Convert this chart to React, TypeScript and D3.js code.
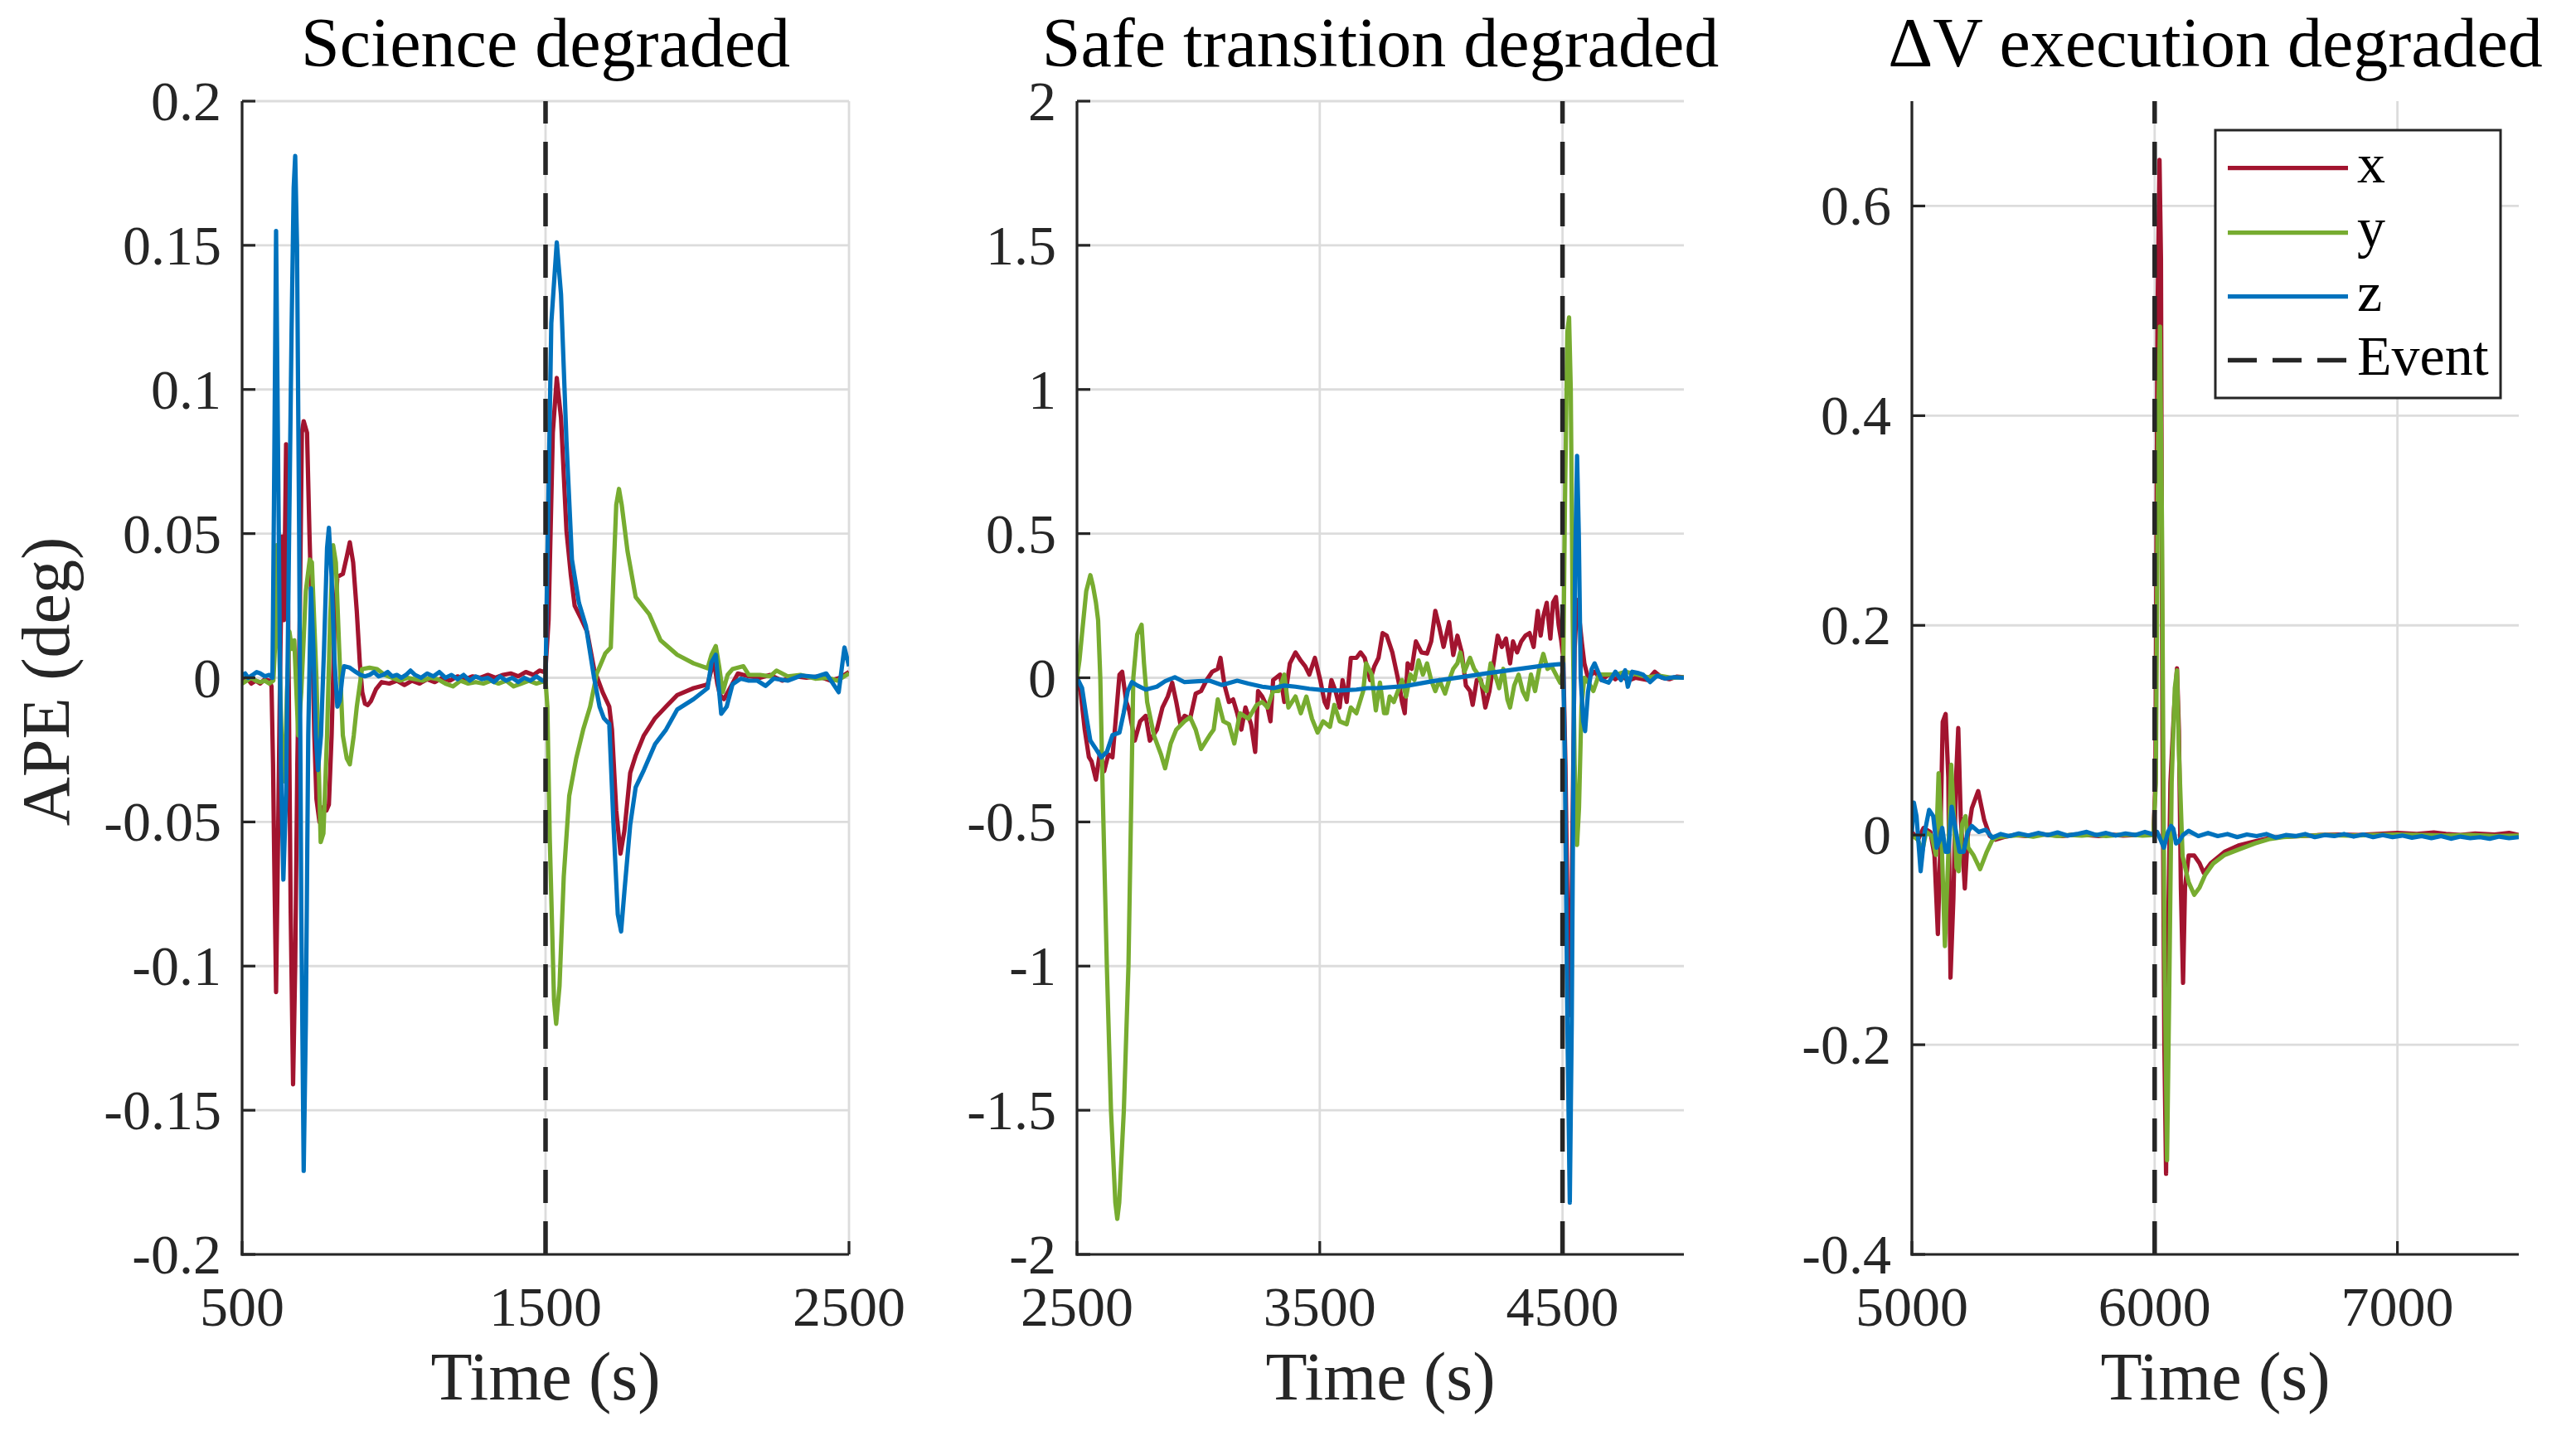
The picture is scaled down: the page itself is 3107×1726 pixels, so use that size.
import * as React from 'react';
import * as d3 from 'd3';

type Pt = [number, number];

// time (s), APE (deg)
const scienceX: Pt[] = [[500,-0.001],[515,0.0],[530,-0.002],[545,-0.001],[560,-0.002],[575,-0.0005],[590,-0.001],[597,-0.003],[602,-0.03],[606,-0.064],[612,-0.109],[618,-0.06],[625,0.0],[632,0.049],[638,0.02],[645,0.081],[652,0.02],[660,-0.08],[668,-0.141],[675,-0.1],[682,-0.03],[690,0.02],[697,0.085],[703,0.089],[714,0.085],[722,0.05],[730,0.02],[738,-0.02],[745,-0.042],[755,-0.05],[765,-0.045],[778,-0.046],[786,-0.044],[795,-0.02],[805,0.02],[814,0.035],[832,0.036],[845,0.042],[855,0.047],[866,0.04],[878,0.023],[888,0.005],[896,-0.005],[905,-0.009],[914,-0.0095],[925,-0.008],[941,-0.004],[960,-0.0015],[985,-0.002],[1010,-0.001],[1035,-0.0025],[1060,-0.001],[1085,-0.002],[1110,-0.0005],[1135,-0.0015],[1160,0.0],[1185,-0.001],[1210,0.0005],[1235,-0.0005],[1260,0.0005],[1285,0.0],[1310,0.001],[1335,0.0],[1360,0.001],[1385,0.0015],[1410,0.0005],[1435,0.002],[1460,0.001],[1480,0.0025],[1495,0.002],[1500,0.003],[1510,0.02],[1524,0.085],[1537,0.104],[1551,0.09],[1569,0.051],[1583,0.036],[1596,0.025],[1615,0.021],[1637,0.016],[1660,0.003],[1688,-0.005],[1710,-0.01],[1719,-0.018],[1733,-0.046],[1747,-0.061],[1760,-0.053],[1779,-0.033],[1797,-0.027],[1824,-0.02],[1861,-0.014],[1897,-0.01],[1934,-0.006],[1988,-0.0036],[2034,-0.0023],[2047,0.003],[2056,0.005],[2066,-0.002],[2075,-0.006],[2088,-0.0074],[2116,-0.002],[2134,0.0015],[2170,0.0005],[2207,0.0],[2240,0.001],[2280,-0.001],[2320,0.0005],[2360,0.0],[2400,0.0005],[2440,-0.001],[2470,0.0],[2500,0.002]];
const scienceY: Pt[] = [[500,-0.002],[515,-0.001],[530,0.0],[545,-0.001],[560,-0.0015],[575,-0.001],[590,-0.002],[603,-0.001],[609,0.012],[614,0.046],[620,0.02],[630,-0.02],[640,-0.036],[648,-0.005],[656,0.016],[664,0.01],[672,0.013],[685,-0.02],[695,-0.005],[710,0.03],[723,0.041],[730,0.04],[745,0.0],[759,-0.057],[768,-0.054],[780,-0.02],[790,0.02],[800,0.046],[809,0.04],[820,0.01],[832,-0.02],[845,-0.028],[855,-0.03],[868,-0.02],[878,-0.01],[895,0.003],[920,0.0035],[945,0.003],[970,0.001],[995,0.0],[1020,-0.001],[1045,0.0],[1070,-0.0005],[1095,-0.001],[1120,0.0],[1145,-0.0005],[1170,-0.002],[1195,-0.003],[1220,-0.001],[1245,-0.002],[1270,-0.0015],[1295,-0.002],[1320,-0.001],[1345,-0.002],[1370,-0.001],[1395,-0.003],[1420,-0.002],[1445,-0.001],[1470,-0.002],[1500,-0.001],[1506,-0.01],[1514,-0.056],[1528,-0.112],[1535,-0.12],[1546,-0.107],[1560,-0.069],[1578,-0.041],[1601,-0.028],[1624,-0.018],[1647,-0.01],[1669,0.0015],[1697,0.0085],[1715,0.0105],[1724,0.036],[1733,0.06],[1742,0.0655],[1751,0.06],[1770,0.044],[1797,0.028],[1842,0.022],[1879,0.013],[1934,0.008],[1988,0.005],[2034,0.0033],[2047,0.008],[2061,0.011],[2072,0.004],[2084,-0.005],[2100,0.001],[2116,0.003],[2152,0.004],[2170,0.001],[2207,0.001],[2240,0.0005],[2261,0.0025],[2298,0.0005],[2340,0.001],[2389,-0.0003],[2430,0.0],[2462,-0.001],[2500,0.0015]];
const scienceZ: Pt[] = [[500,0.001],[510,0.0015],[520,0.0],[535,0.001],[548,0.002],[560,0.0015],[575,0.0005],[590,0.001],[600,0.0],[605,0.06],[612,0.155],[620,0.06],[628,-0.03],[636,-0.07],[645,-0.04],[655,0.05],[663,0.12],[670,0.17],[675,0.181],[681,0.15],[688,0.05],[695,-0.08],[703,-0.171],[710,-0.12],[718,-0.02],[727,0.031],[735,0.01],[743,-0.02],[750,-0.032],[760,-0.02],[770,0.01],[780,0.045],[786,0.052],[795,0.035],[805,0.005],[814,-0.01],[822,-0.008],[830,0.0],[836,0.004],[855,0.0035],[875,0.002],[890,0.001],[905,0.0005],[920,0.001],[935,0.002],[950,0.0005],[965,0.001],[980,0.002],[995,0.0005],[1010,0.001],[1025,0.0],[1040,0.001],[1055,0.0025],[1070,0.001],[1090,0.0],[1110,0.0015],[1130,0.0005],[1150,0.002],[1170,0.0],[1190,0.001],[1210,-0.0005],[1230,0.001],[1250,-0.001],[1270,0.0005],[1290,-0.0005],[1310,0.0],[1330,-0.0015],[1350,0.0005],[1370,-0.001],[1390,0.0],[1410,-0.0015],[1430,0.0],[1450,-0.001],[1470,0.0005],[1490,-0.001],[1500,-0.001],[1505,0.034],[1519,0.123],[1537,0.151],[1551,0.133],[1569,0.082],[1587,0.041],[1610,0.026],[1633,0.018],[1660,0.0],[1678,-0.01],[1692,-0.014],[1710,-0.016],[1724,-0.051],[1738,-0.082],[1749,-0.088],[1760,-0.074],[1779,-0.051],[1797,-0.038],[1824,-0.032],[1861,-0.023],[1897,-0.018],[1934,-0.011],[1988,-0.0074],[2034,-0.0036],[2047,0.0054],[2061,0.008],[2079,-0.0125],[2097,-0.01],[2116,-0.0023],[2143,-0.0003],[2170,-0.001],[2198,-0.001],[2225,-0.0028],[2252,-0.0003],[2298,-0.001],[2343,0.0008],[2389,0.0003],[2425,0.0015],[2466,-0.005],[2485,0.0105],[2500,0.004]];

const safeX: Pt[] = [[2500,0.0],[2515,-0.05],[2532,-0.18],[2549,-0.275],[2560,-0.29],[2578,-0.353],[2595,-0.257],[2612,-0.324],[2629,-0.266],[2646,-0.276],[2658,-0.16],[2675,0.011],[2686,0.021],[2703,-0.084],[2715,-0.113],[2738,-0.218],[2760,-0.151],[2783,-0.132],[2800,-0.218],[2829,-0.18],[2852,-0.103],[2874,-0.065],[2892,-0.017],[2909,-0.084],[2926,-0.161],[2943,-0.132],[2966,-0.142],[2989,-0.055],[3011,-0.046],[3034,-0.008],[3057,0.021],[3080,0.031],[3091,0.069],[3108,-0.027],[3126,-0.084],[3143,-0.075],[3160,-0.123],[3177,-0.18],[3194,-0.103],[3217,-0.161],[3234,-0.257],[3246,-0.046],[3263,-0.065],[3285,-0.103],[3297,-0.151],[3308,-0.008],[3337,0.011],[3354,-0.084],[3377,0.05],[3400,0.088],[3422,0.059],[3440,0.04],[3457,0.011],[3480,0.069],[3502,-0.008],[3520,-0.084],[3531,-0.103],[3548,-0.008],[3565,-0.046],[3582,-0.103],[3594,-0.008],[3611,-0.084],[3628,0.069],[3651,0.069],[3668,0.088],[3685,0.069],[3708,-0.008],[3725,0.04],[3742,0.069],[3759,0.155],[3776,0.146],[3799,0.088],[3816,0.021],[3828,-0.027],[3839,-0.084],[3850,-0.123],[3862,0.05],[3879,0.031],[3896,0.126],[3919,0.088],[3942,0.084],[3959,0.126],[3976,0.232],[3993,0.174],[4010,0.107],[4033,0.193],[4050,0.079],[4067,0.146],[4085,0.088],[4102,-0.027],[4119,-0.046],[4130,-0.094],[4147,-0.008],[4164,-0.008],[4182,-0.103],[4199,-0.046],[4216,0.05],[4233,0.146],[4250,0.107],[4267,0.136],[4284,0.05],[4296,0.126],[4313,0.088],[4330,0.126],[4347,0.146],[4364,0.155],[4381,0.107],[4398,0.232],[4410,0.146],[4421,0.213],[4435,0.26],[4450,0.136],[4461,0.261],[4473,0.28],[4484,0.184],[4495,0.127],[4503,0.07],[4512,-0.3],[4522,-0.9],[4532,-1.17],[4540,-0.6],[4550,0.1],[4560,0.27],[4570,0.2],[4580,0.12],[4590,0.05],[4605,0.0],[4632,0.021],[4661,-0.008],[4690,0.011],[4718,-0.005],[4741,0.009],[4770,-0.01],[4800,0.0],[4850,-0.008],[4880,0.021],[4910,0.0],[4940,-0.005],[4970,0.004],[5000,0.002]];
const safeY: Pt[] = [[2500,0.0],[2510,0.06],[2521,0.155],[2538,0.3],[2555,0.356],[2566,0.318],[2578,0.261],[2587,0.2],[2596,0.0],[2606,-0.4],[2623,-1.0],[2640,-1.5],[2658,-1.82],[2666,-1.877],[2674,-1.82],[2693,-1.5],[2712,-1.0],[2722,-0.5],[2732,0.0],[2748,0.15],[2766,0.184],[2776,0.05],[2789,-0.084],[2817,-0.2],[2846,-0.266],[2863,-0.314],[2886,-0.228],[2909,-0.18],[2943,-0.151],[2966,-0.137],[2989,-0.18],[3011,-0.247],[3046,-0.2],[3063,-0.18],[3080,-0.075],[3103,-0.151],[3126,-0.161],[3148,-0.228],[3171,-0.123],[3206,-0.142],[3240,-0.094],[3263,-0.084],[3285,-0.103],[3308,-0.046],[3331,-0.046],[3354,0.011],[3371,-0.103],[3400,-0.065],[3422,-0.123],[3445,-0.065],[3468,-0.142],[3491,-0.19],[3514,-0.151],[3542,-0.17],[3560,-0.094],[3582,-0.151],[3611,-0.161],[3628,-0.103],[3651,-0.123],[3679,-0.046],[3691,0.05],[3714,0.011],[3731,-0.113],[3748,-0.017],[3765,-0.123],[3776,-0.123],[3788,-0.065],[3805,-0.084],[3822,-0.046],[3839,-0.008],[3856,-0.065],[3873,0.011],[3890,-0.008],[3907,0.06],[3925,0.011],[3942,0.05],[3959,-0.008],[3976,-0.046],[3993,-0.008],[4016,-0.055],[4033,-0.008],[4050,0.031],[4067,0.05],[4079,0.088],[4096,0.021],[4119,0.069],[4136,0.031],[4153,0.011],[4170,-0.027],[4187,-0.046],[4204,0.05],[4222,0.011],[4239,-0.036],[4256,0.031],[4273,-0.075],[4284,-0.103],[4301,-0.027],[4319,0.011],[4336,-0.046],[4353,-0.075],[4370,0.011],[4387,-0.046],[4404,0.031],[4421,0.083],[4438,0.031],[4455,0.04],[4473,0.011],[4490,-0.017],[4503,0.03],[4510,0.6],[4520,1.2],[4527,1.25],[4534,1.0],[4542,0.2],[4550,-0.3],[4560,-0.58],[4568,-0.45],[4578,-0.1],[4590,0.0],[4610,-0.02],[4627,-0.046],[4650,0.011],[4690,0.011],[4718,0.011],[4760,0.021],[4809,0.011],[4850,0.002],[4900,0.007],[4950,0.0],[5000,0.002]];
const safeZ: Pt[] = [[2500,0.0],[2521,-0.036],[2538,-0.132],[2555,-0.218],[2578,-0.247],[2600,-0.276],[2623,-0.257],[2646,-0.199],[2675,-0.19],[2692,-0.123],[2709,-0.046],[2726,-0.015],[2749,-0.027],[2783,-0.041],[2829,-0.031],[2863,-0.012],[2903,0.002],[2943,-0.015],[3000,-0.012],[3046,-0.01],[3097,-0.025],[3160,-0.01],[3206,-0.02],[3263,-0.031],[3308,-0.036],[3354,-0.027],[3400,-0.031],[3457,-0.038],[3514,-0.043],[3582,-0.044],[3651,-0.041],[3696,-0.036],[3736,-0.036],[3850,-0.029],[3965,-0.012],[4079,0.002],[4193,0.016],[4307,0.029],[4421,0.042],[4495,0.048],[4503,0.05],[4510,-0.3],[4520,-1.2],[4530,-1.82],[4538,-1.2],[4545,-0.3],[4552,0.4],[4560,0.77],[4567,0.5],[4575,0.0],[4585,-0.15],[4593,-0.185],[4605,-0.05],[4620,0.03],[4632,0.05],[4661,-0.008],[4690,-0.017],[4718,0.021],[4741,-0.008],[4758,0.026],[4769,-0.031],[4787,0.021],[4809,0.017],[4832,0.011],[4861,-0.015],[4889,0.007],[4924,-0.003],[4958,0.002],[5000,0.0]];

const dvX: Pt[] = [[5000,0.003],[5025,-0.0045],[5048,0.0067],[5076,0.003],[5093,-0.019],[5107,-0.0945],[5116,-0.019],[5127,0.108],[5139,0.1155],[5150,0.055],[5159,-0.136],[5171,-0.06],[5182,0.055],[5191,0.102],[5201,0.018],[5218,-0.051],[5230,-0.001],[5247,0.0255],[5273,0.042],[5298,0.0142],[5321,-0.001],[5344,-0.0045],[5378,-0.002],[5420,0.0],[5470,-0.001],[5520,0.001],[5570,0.0],[5620,-0.001],[5670,0.0005],[5720,0.0],[5770,-0.001],[5820,0.0005],[5870,-0.0005],[5920,0.0],[5970,0.001],[5995,0.0],[6003,0.05],[6012,0.5],[6020,0.644],[6026,0.55],[6032,0.1],[6040,-0.2],[6047,-0.323],[6055,-0.1],[6065,0.05],[6080,0.12],[6092,0.159],[6100,0.1],[6108,-0.05],[6117,-0.141],[6125,-0.05],[6140,-0.0195],[6163,-0.0195],[6185,-0.027],[6202,-0.036],[6231,-0.027],[6288,-0.016],[6345,-0.01],[6413,-0.006],[6470,-0.003],[6530,-0.0015],[6600,-0.001],[6680,0.0],[6760,0.0005],[6840,0.0],[6920,0.001],[7000,0.002],[7080,0.001],[7150,0.0025],[7200,0.001],[7260,0.0],[7320,0.0015],[7400,0.0005],[7460,0.002],[7500,0.0]];
const dvY: Pt[] = [[5000,0.0],[5025,-0.0045],[5042,-0.016],[5059,0.003],[5082,-0.001],[5099,-0.019],[5110,0.059],[5122,-0.001],[5136,-0.106],[5150,-0.019],[5162,0.067],[5173,0.018],[5184,-0.031],[5193,-0.0345],[5207,0.0105],[5221,0.018],[5232,-0.012],[5253,-0.019],[5281,-0.0326],[5309,-0.0157],[5332,-0.0045],[5355,-0.002],[5400,-0.001],[5450,0.0],[5500,-0.0015],[5550,0.0005],[5600,-0.001],[5650,0.0],[5700,-0.0005],[5750,0.0005],[5800,-0.001],[5850,0.0],[5900,0.0005],[5950,-0.0005],[5995,0.0],[6005,0.05],[6015,0.4],[6022,0.485],[6030,0.3],[6040,-0.1],[6051,-0.31],[6060,-0.15],[6070,0.05],[6083,0.14],[6092,0.157],[6100,0.08],[6115,-0.02],[6140,-0.045],[6163,-0.057],[6185,-0.05],[6208,-0.038],[6242,-0.027],[6288,-0.019],[6345,-0.0139],[6413,-0.008],[6470,-0.004],[6530,-0.002],[6600,-0.001],[6700,0.0],[6800,-0.0005],[6900,0.0],[7000,0.0005],[7100,0.0],[7200,-0.0005],[7300,0.0],[7400,-0.001],[7500,-0.0005]];
const dvZ: Pt[] = [[5000,0.003],[5008,0.031],[5019,0.018],[5036,-0.0345],[5053,0.003],[5071,0.024],[5088,0.018],[5102,-0.012],[5114,-0.005],[5125,0.0068],[5139,-0.016],[5150,-0.016],[5164,0.027],[5179,0.0068],[5196,-0.016],[5213,-0.016],[5230,0.003],[5247,0.0086],[5275,0.003],[5304,0.005],[5332,-0.0026],[5366,0.001],[5400,-0.001],[5440,0.0015],[5480,-0.0005],[5520,0.002],[5560,0.0],[5600,0.0025],[5640,-0.0005],[5680,0.001],[5720,0.003],[5760,0.0],[5800,0.002],[5840,-0.0005],[5880,0.0015],[5920,0.0],[5960,0.003],[5990,0.001],[6010,0.003],[6025,-0.005],[6038,-0.012],[6055,0.003],[6068,0.0086],[6077,0.006],[6088,-0.008],[6100,-0.006],[6117,0.0],[6140,0.004],[6180,-0.001],[6220,0.002],[6260,-0.001],[6300,0.001],[6340,-0.002],[6380,0.0005],[6420,-0.001],[6460,0.001],[6500,-0.0025],[6540,0.0],[6580,-0.001],[6620,0.001],[6660,-0.002],[6700,0.0],[6740,-0.001],[6780,0.001],[6820,-0.0015],[6860,0.0005],[6900,-0.002],[6940,0.0],[6980,-0.002],[7020,-0.0005],[7060,-0.0025],[7100,-0.001],[7140,-0.003],[7180,-0.001],[7220,-0.0035],[7260,-0.0015],[7300,-0.003],[7340,-0.002],[7380,-0.0035],[7420,-0.0015],[7460,-0.003],[7500,-0.002]];

const titles = ['Science degraded', 'Safe transition degraded', '\u0394V execution degraded'];
const events = [1500, 4500, 6000];
const xDomains: Pt[] = [[500, 2500], [2500, 5000], [5000, 7500]];
const yDomains: Pt[] = [[-0.2, 0.2], [-2, 2], [-0.4, 0.7]];
const xTickValues = [[500, 1500, 2500], [2500, 3500, 4500], [5000, 6000, 7000]];
const yTickValues = [
  [-0.2, -0.15, -0.1, -0.05, 0, 0.05, 0.1, 0.15, 0.2],
  [-2, -1.5, -1, -0.5, 0, 0.5, 1, 1.5, 2],
  [-0.4, -0.2, 0, 0.2, 0.4, 0.6],
];
const seriesNames = ['x', 'y', 'z'];
const seriesColors = ['#A2142F', '#77AC30', '#0072BD'];
const data = [[scienceX, scienceY, scienceZ], [safeX, safeY, safeZ], [dvX, dvY, dvZ]];

const W = 3107;
const H = 1726;
const TOP = 122;
const BOTTOM = 1513;
const LEFTS = [292, 1299, 2306];
const PW = 732;
const AX = '#262626';
const GRID = '#dcdcdc';
const FONT = '"Liberation Serif", "Times New Roman", serif';

const Panel: React.FC<{ i: number }> = ({ i }) => {
  const left = LEFTS[i];
  const x = d3.scaleLinear().domain(xDomains[i]).range([left, left + PW]);
  const y = d3.scaleLinear().domain(yDomains[i]).range([BOTTOM, TOP]);
  const line = d3.line<Pt>().x(d => x(d[0])).y(d => y(d[1]));
  const clipId = `clip${i}`;
  return (
    <g>
      <defs>
        <clipPath id={clipId}>
          <rect x={left} y={TOP - 3} width={PW} height={BOTTOM - TOP + 3} />
        </clipPath>
      </defs>
      {/* grid */}
      {yTickValues[i].map(v => (
        <line key={'gy' + v} x1={left} x2={left + PW} y1={y(v)} y2={y(v)} stroke={GRID} strokeWidth={2.8} />
      ))}
      {xTickValues[i].map(v => (
        <line key={'gx' + v} x1={x(v)} x2={x(v)} y1={TOP} y2={BOTTOM} stroke={GRID} strokeWidth={2.8} />
      ))}
      {/* series */}
      <g clipPath={`url(#${clipId})`}>
        {data[i].map((s, k) => (
          <path key={k} d={line(s) || ''} fill="none" stroke={seriesColors[k]} strokeWidth={5.2} strokeLinejoin="round" />
        ))}
      </g>
      {/* event */}
      <line x1={x(events[i])} x2={x(events[i])} y1={BOTTOM} y2={TOP} stroke={AX} strokeWidth={5.5} strokeDasharray="40 22" />
      {/* axes */}
      <line x1={left} x2={left} y1={TOP} y2={BOTTOM + 1.5} stroke={AX} strokeWidth={3.2} />
      <line x1={left - 1.5} x2={left + PW} y1={BOTTOM} y2={BOTTOM} stroke={AX} strokeWidth={3.2} />
      {yTickValues[i].map(v => (
        <g key={'ty' + v}>
          <line x1={left} x2={left + 16} y1={y(v)} y2={y(v)} stroke={AX} strokeWidth={3.2} />
          <text x={left - 25} y={y(v) + 23} textAnchor="end" fontSize={68} fill={AX} fontFamily={FONT}>{String(v)}</text>
        </g>
      ))}
      {xTickValues[i].map(v => (
        <g key={'tx' + v}>
          <line x1={x(v)} x2={x(v)} y1={BOTTOM} y2={BOTTOM - 16} stroke={AX} strokeWidth={3.2} />
          <text x={x(v)} y={1599} textAnchor="middle" fontSize={68} fill={AX} fontFamily={FONT}>{String(v)}</text>
        </g>
      ))}
      <text x={left + PW / 2} y={1688} textAnchor="middle" fontSize={82} fill={AX} fontFamily={FONT}>Time (s)</text>
      <text x={left + PW / 2} y={80} textAnchor="middle" fontSize={84} fill="#000" fontFamily={FONT}>{titles[i]}</text>
    </g>
  );
};

const Legend: React.FC = () => {
  const bx = 2672, by = 157, bw = 344, bh = 323;
  const rows = [202.6, 280.7, 357.6, 434.5];
  const labels = [...seriesNames, 'Event'];
  return (
    <g>
      <rect x={bx} y={by} width={bw} height={bh} fill="#fff" stroke={AX} strokeWidth={3} />
      {labels.map((lab, k) => (
        <g key={lab}>
          <line x1={2687} x2={2832} y1={rows[k]} y2={rows[k]}
            stroke={k < 3 ? seriesColors[k] : AX} strokeWidth={k < 3 ? 5.2 : 5.5}
            strokeDasharray={k < 3 ? undefined : '35 19'} />
          <text x={2843} y={rows[k] + 17} fontSize={68} fill="#000" fontFamily={FONT}>{lab}</text>
        </g>
      ))}
    </g>
  );
};

const App: React.FC = () => (
  <svg width={W} height={H} style={{ position: 'absolute', left: 0, top: 0, background: '#fff' }}>
    <rect x={0} y={0} width={W} height={H} fill="#fff" />
    {[0, 1, 2].map(i => <Panel key={i} i={i} />)}
    <text transform={`translate(83, 822) rotate(-90)`} textAnchor="middle" fontSize={82} fill={AX} fontFamily={FONT}>APE (deg)</text>
    <Legend />
  </svg>
);

export default App;
